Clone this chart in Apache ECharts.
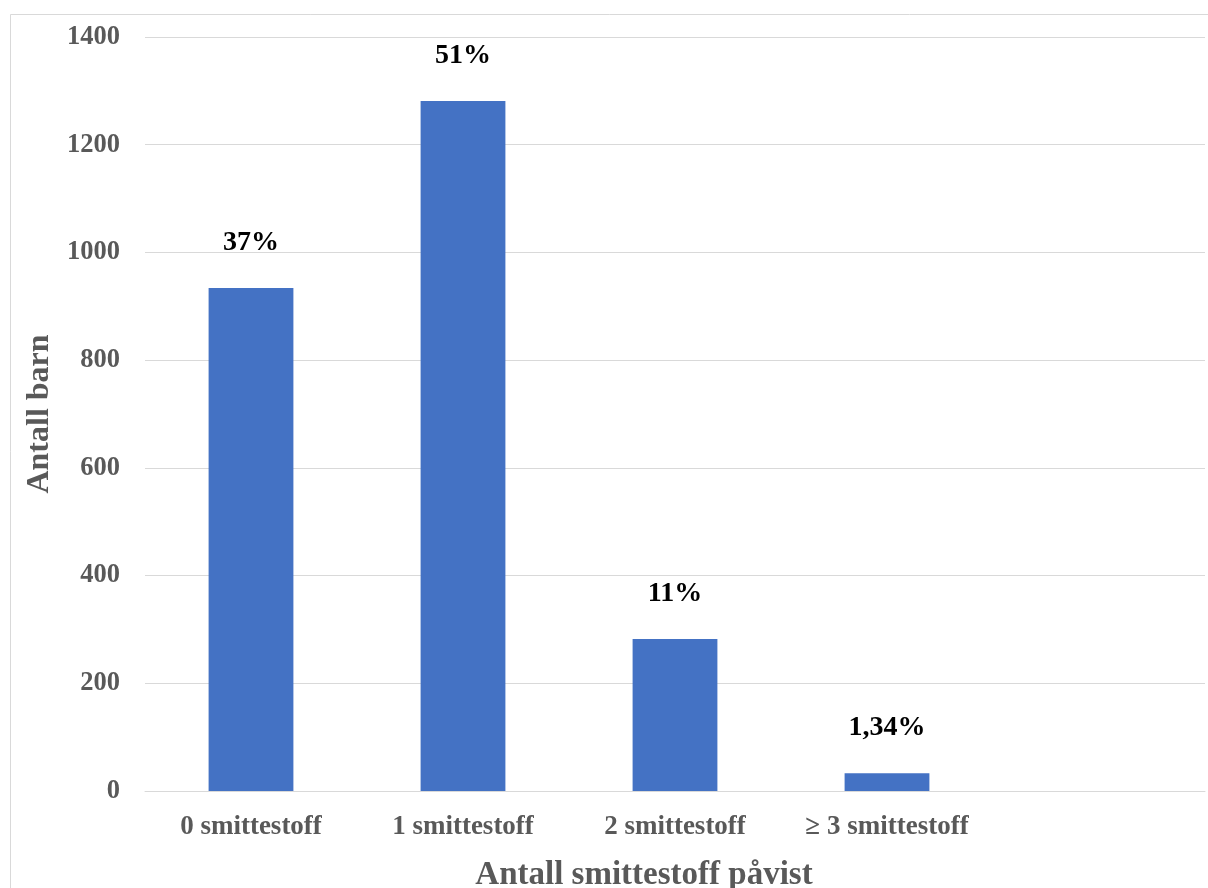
<!DOCTYPE html>
<html>
<head>
<meta charset="utf-8">
<script src="https://cdn.jsdelivr.net/npm/echarts@6/dist/echarts.min.js"></script>
<style>html,body{margin:0;padding:0;background:#fff;}#c{width:1208px;height:888px;}</style>
</head>
<body>
<div id="c"></div>
<script>
const categories = ['0 smittestoff', '1 smittestoff', '2 smittestoff', '\u2265 3 smittestoff', ''];
const values = [934, 1281, 282, 33, null];
const percentLabels = ['37%', '51%', '11%', '1,34%', ''];
const yTicks = [0, 200, 400, 600, 800, 1000, 1200, 1400];

const FONT = '"Liberation Serif", "Times New Roman", serif';
const chart = echarts.init(document.getElementById('c'), null, {renderer: 'canvas'});
chart.setOption({
  animation: false,
  backgroundColor: '#fff',
  graphic: [{
    type: 'rect', shape: {x: 10.5, y: 14.5, width: 1210, height: 900},
    style: {fill: 'none', stroke: '#d9d9d9', lineWidth: 1}, silent: true, z: -1
  }],
  grid: {left: 145, right: 3, top: 37, bottom: 97, containLabel: false, outerBoundsMode: 'none'},
  xAxis: {
    type: 'category',
    data: categories,
    axisLine: {lineStyle: {color: '#d9d9d9', width: 1}},
    axisTick: {show: false},
    axisLabel: {color: '#595959', fontFamily: FONT, fontWeight: 'bold', fontSize: 27, margin: 23, interval: 0},
    name: 'Antall smittestoff påvist',
    nameLocation: 'middle',
    nameGap: 68,
    nameTextStyle: {color: '#595959', fontFamily: FONT, fontWeight: 'bold', fontSize: 33, padding: [0, 62, 0, 0]}
  },
  yAxis: {
    type: 'value',
    min: yTicks[0], max: yTicks[yTicks.length - 1], interval: 200,
    axisLine: {show: false},
    axisTick: {show: false},
    splitLine: {lineStyle: {color: '#d9d9d9', width: 1}},
    axisLabel: {color: '#595959', fontFamily: FONT, fontWeight: 'bold', fontSize: 26.5, margin: 25,
      formatter: v => String(v)},
    name: 'Antall barn',
    nameLocation: 'middle',
    nameGap: 83,
    nameRotate: 90,
    nameTextStyle: {color: '#595959', fontFamily: FONT, fontWeight: 'bold', fontSize: 32}
  },
  series: [{
    type: 'bar',
    data: values,
    barWidth: '40%',
    itemStyle: {color: '#4472c4'},
    label: {
      show: true, position: 'top', distance: 31,
      formatter: p => percentLabels[p.dataIndex],
      color: '#000', fontFamily: FONT, fontWeight: 'bold', fontSize: 28
    }
  }]
});
</script>
</body>
</html>
